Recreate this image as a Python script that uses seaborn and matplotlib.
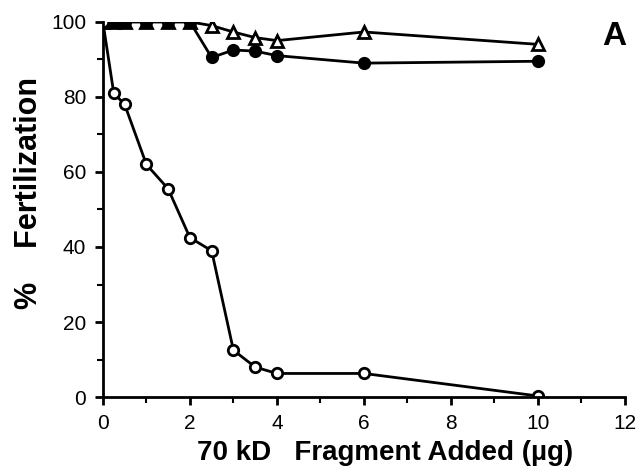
import matplotlib
matplotlib.use("Agg")
import matplotlib.pyplot as plt
import seaborn as sns
import pandas as pd
from matplotlib.ticker import MultipleLocator

sns.set_style("ticks")
plt.rcParams['font.family'] = ['Liberation Sans', 'DejaVu Sans']
plt.rcParams['text.color'] = 'black'
plt.rcParams['axes.labelcolor'] = 'black'

# Data
dose_open = [0, 0.25, 0.5, 1, 1.5, 2, 2.5, 3, 3.5, 4, 6, 10]
fert_open = [100, 81, 78, 62, 55.5, 42.5, 39, 12.5, 8, 6.3, 6.3, 0.3]

dose_filled = [0, 0.25, 0.5, 1, 1.5, 2, 2.5, 3, 3.5, 4, 6, 10]
fert_filled = [100, 100, 100, 100, 100, 100, 90.5, 92.5, 92.2, 91, 89, 89.5]

dose_tri = [0, 0.25, 0.5, 1, 1.5, 2, 2.5, 3, 3.5, 4, 6, 10]
fert_tri = [100, 100, 100, 100, 100, 100, 99, 97.3, 95.8, 95, 97.3, 94]

x_ticks = [0, 2, 4, 6, 8, 10, 12]
y_ticks = [0, 20, 40, 60, 80, 100]

fig = plt.figure(figsize=(6.43, 4.75), dpi=100)
ax = fig.add_axes([0.16, 0.164, 0.812, 0.79])

df_o = pd.DataFrame({"x": dose_open, "y": fert_open})
df_f = pd.DataFrame({"x": dose_filled, "y": fert_filled})
df_t = pd.DataFrame({"x": dose_tri, "y": fert_tri})

sns.lineplot(data=df_t, x="x", y="y", ax=ax, color="black", lw=2,
             marker="^", markersize=8, markerfacecolor="white",
             markeredgecolor="black", markeredgewidth=2)
sns.lineplot(data=df_f, x="x", y="y", ax=ax, color="black", lw=2,
             marker="o", markersize=8, markerfacecolor="black",
             markeredgecolor="black", markeredgewidth=1.5)
sns.lineplot(data=df_o, x="x", y="y", ax=ax, color="black", lw=2,
             marker="o", markersize=7.5, markerfacecolor="white",
             markeredgecolor="black", markeredgewidth=2)

ax.set_xlim(0, 12)
ax.set_ylim(0, 100)
ax.set_xticks(x_ticks)
ax.set_yticks(y_ticks)
ax.xaxis.set_minor_locator(MultipleLocator(1))
ax.yaxis.set_minor_locator(MultipleLocator(10))
ax.tick_params(axis="both", which="major", direction="out", length=6, width=2,
               labelsize=15, colors="black", pad=6)
ax.tick_params(axis="both", which="minor", direction="out", length=4, width=1.5,
               colors="black")
for s in ["left", "bottom"]:
    ax.spines[s].set_linewidth(2)
    ax.spines[s].set_color("black")
sns.despine(ax=ax)

ax.set_xlabel("70 kD   Fragment Added (µg)", fontsize=20, fontweight="bold", color="black")
ax.set_ylabel("%    Fertilization", fontsize=22, fontweight="bold", color="black")
ax.xaxis.set_label_coords(0.54, -0.115)
ax.yaxis.set_label_coords(-0.112, 0.545)
fig.text(0.956, 0.924, "A", fontsize=24, fontweight="bold", ha="center", va="center",
         color="black")

fig.savefig("out.png", dpi=100)
